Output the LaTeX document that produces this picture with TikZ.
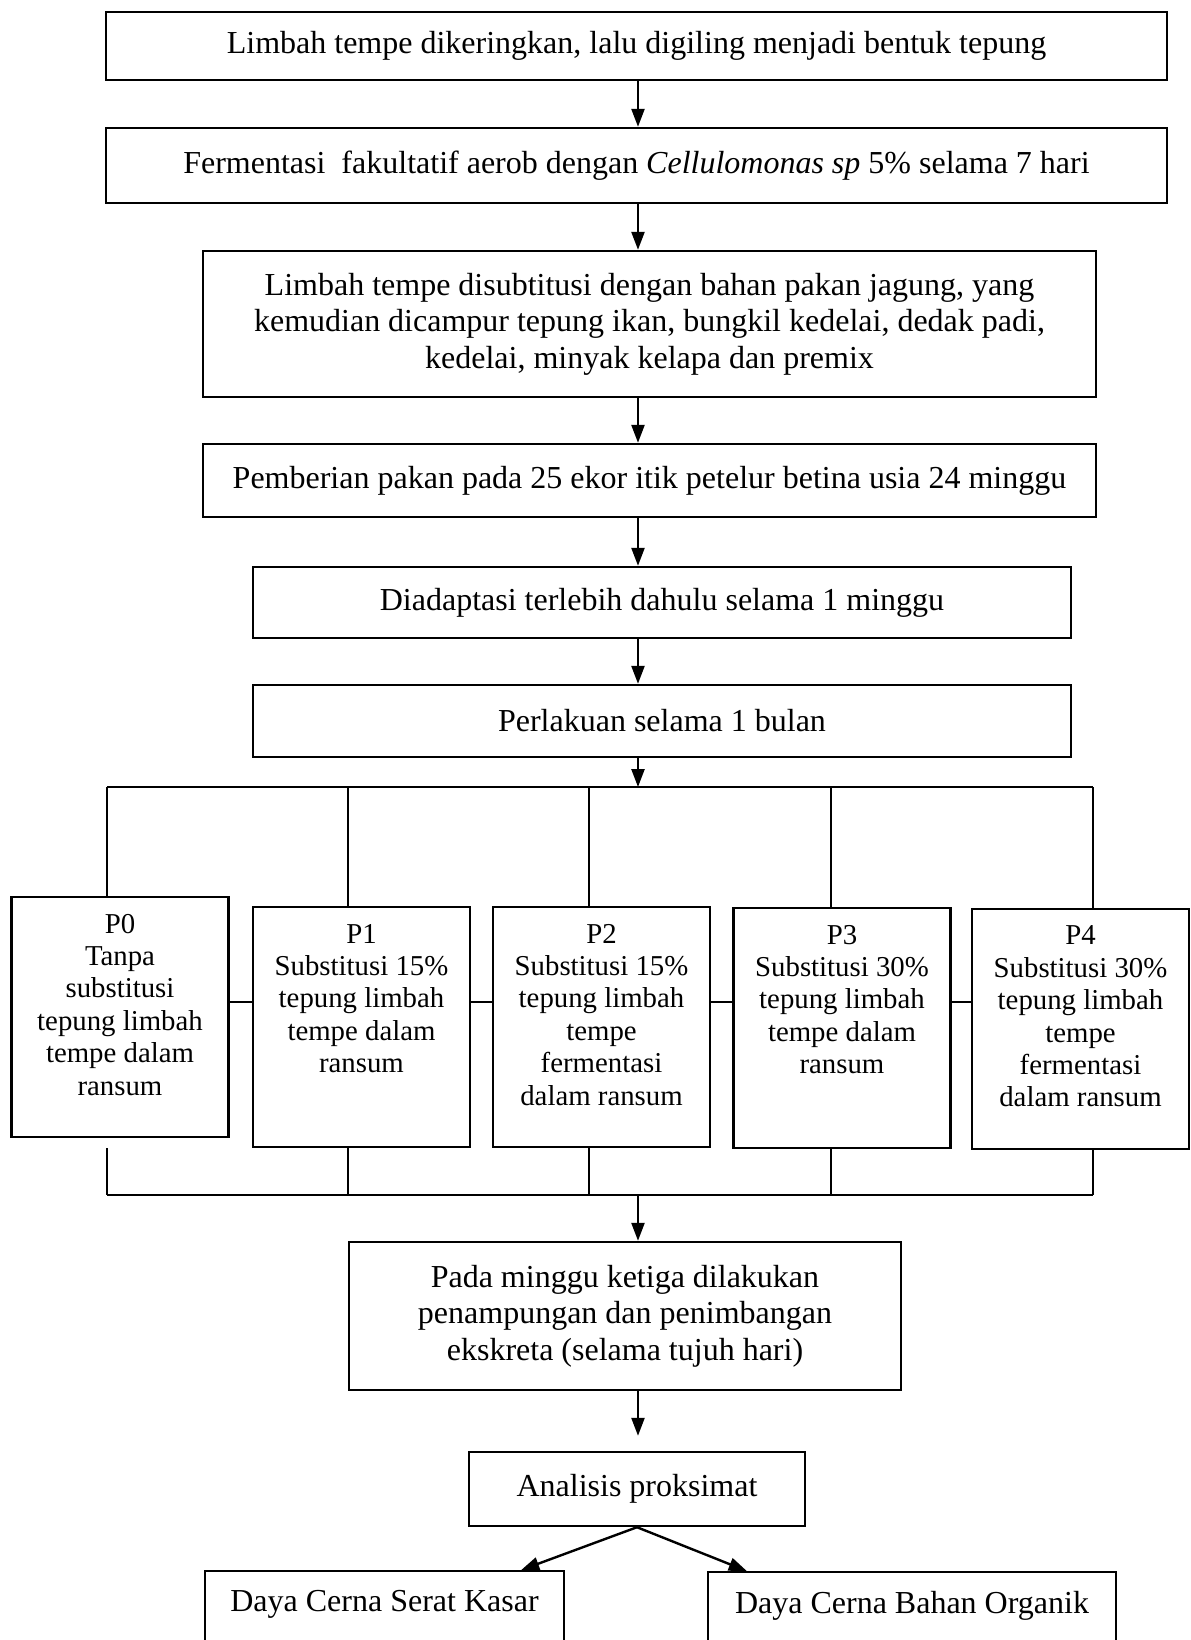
\documentclass[tikz,border=0pt]{standalone}
\usepackage{fontspec}
\setmainfont{Liberation Serif}
\usetikzlibrary{positioning, arrows.meta}

\begin{document}
\begin{tikzpicture}[x=0.5pt, y=-0.5pt, line width=1.2pt,
	box/.style={draw, align=center, inner sep=0pt, font=\fontsize{16}{18.3}\selectfont},
	pbox/.style={draw, minimum width=108.5pt, minimum height=120pt},
	ptxt/.style={align=center, inner sep=0pt, font=\fontsize{14.4}{16.2}\selectfont},
	arr/.style={-{Triangle[length=9pt,width=6.5pt]}}]
	\useasboundingbox (0,0) rectangle (1190,1640);
	\coordinate (c) at (638,0);
	% main chain
	\node[box, minimum width=530.5pt, minimum height=34pt] (1) at (636.5,46) {Limbah tempe dikeringkan, lalu digiling menjadi bentuk tepung};
	\node[box, minimum width=530.5pt, minimum height=37.5pt] (2) at (636.5,165.5) {Fermentasi\ \ fakultatif aerob dengan \textit{Cellulomonas sp} 5\% selama 7 hari};
	\node[box, minimum width=446.5pt, minimum height=73pt] (3) at (649.5,324) {Limbah tempe disubtitusi dengan bahan pakan jagung, yang\\kemudian dicampur tepung ikan, bungkil kedelai, dedak padi,\\kedelai, minyak kelapa dan premix};
	\node[box, minimum width=446.5pt, minimum height=36.5pt] (4) at (649.5,480.5) {Pemberian pakan pada 25 ekor itik petelur betina usia 24 minggu};
	\node[box, minimum width=409pt, minimum height=35.5pt] (5) at (662,602.5) {Diadaptasi terlebih dahulu selama 1 minggu};
	\node[box, minimum width=409pt, minimum height=36pt] (6) at (662,721) {Perlakuan selama 1 bulan};
	\draw[arr] (1.south -| c) to (2.north -| c);
	\draw[arr] (2.south -| c) to (3.north -| c);
	\draw[arr] (3.south -| c) to (4.north -| c);
	\draw[arr] (4.south -| c) to (5.north -| c);
	\draw[arr] (5.south -| c) to (6.north -| c);
	% treatments
	\node[pbox] (p0) at (120,1017) {};
	\node[pbox] (p1) at (361.5,1027) {};
	\node[pbox] (p2) at (601.5,1027) {};
	\node[pbox] (p3) at (842,1028) {};
	\node[pbox] (p4) at (1080.5,1029) {};
	\node[ptxt, below=8.5pt of p0.north] (t0) {P0\\Tanpa\\substitusi\\tepung limbah\\tempe dalam\\ransum};
	\node[ptxt, below=8.5pt of p1.north] (t1) {P1\\Substitusi 15\%\\tepung limbah\\tempe dalam\\ransum};
	\node[ptxt, below=8.5pt of p2.north] (t2) {P2\\Substitusi 15\%\\tepung limbah\\tempe\\fermentasi\\dalam ransum};
	\node[ptxt, below=8.5pt of p3.north] (t3) {P3\\Substitusi 30\%\\tepung limbah\\tempe dalam\\ransum};
	\node[ptxt, below=8.5pt of p4.north] (t4) {P4\\Substitusi 30\%\\tepung limbah\\tempe\\fermentasi\\dalam ransum};
	\coordinate (h) at (0,1002);
	\draw (p0.east |- h) to (p1.west |- h);
	\draw (p1.east |- h) to (p2.west |- h);
	\draw (p2.east |- h) to (p3.west |- h);
	\draw (p3.east |- h) to (p4.west |- h);
	% upper bar
	\coordinate (d0) at (107,787);
	\coordinate (d1) at (348,787);
	\coordinate (d2) at (589,787);
	\coordinate (d3) at (831,787);
	\coordinate (d4) at (1093,787);
	\draw[arr] (6.south -| c) to (c |- d0);
	\draw (d0) to (d4);
	\draw (d0) to (d0 |- p0.north);
	\draw (d1) to (d1 |- p1.north);
	\draw (d2) to (d2 |- p2.north);
	\draw (d3) to (d3 |- p3.north);
	\draw (d4) to (d4 |- p4.north);
	% lower bar
	\coordinate (e0) at (107,1195);
	\coordinate (e1) at (348,1195);
	\coordinate (e2) at (589,1195);
	\coordinate (e3) at (831,1195);
	\coordinate (e4) at (1093,1195);
	\draw (e0) to (e4);
	\draw (e0 |- p1.south) to (e0);
	\draw (e1 |- p1.south) to (e1);
	\draw (e2 |- p2.south) to (e2);
	\draw (e3 |- p3.south) to (e3);
	\draw (e4 |- p4.south) to (e4);
	% results
	\node[box, minimum width=276pt, minimum height=74pt] (7) at (625,1316) {Pada minggu ketiga dilakukan\\penampungan dan penimbangan\\ekskreta (selama tujuh hari)};
	\node[box, minimum width=168pt, minimum height=37pt] (8) at (637,1489) {Analisis proksimat};
	\draw[arr] (c |- e0) to (7.north -| c);
	\draw[arr, shorten >=7.5pt] (7.south -| c) to (8.north -| c);
	\node[box, anchor=north, minimum width=179.5pt, inner ysep=9.5pt, text depth=60pt] (l) at (384.5,1570) {Daya Cerna Serat Kasar};
	\node[box, anchor=north, minimum width=204pt, inner ysep=9.5pt, text depth=60pt] (r) at (912,1571) {Daya Cerna Bahan Organik};
	\draw[arr] (8.south) to ([xshift=-22pt]l.north east);
	\draw[arr] (8.south) to ([xshift=20pt]r.north west);
\end{tikzpicture}
\end{document}
